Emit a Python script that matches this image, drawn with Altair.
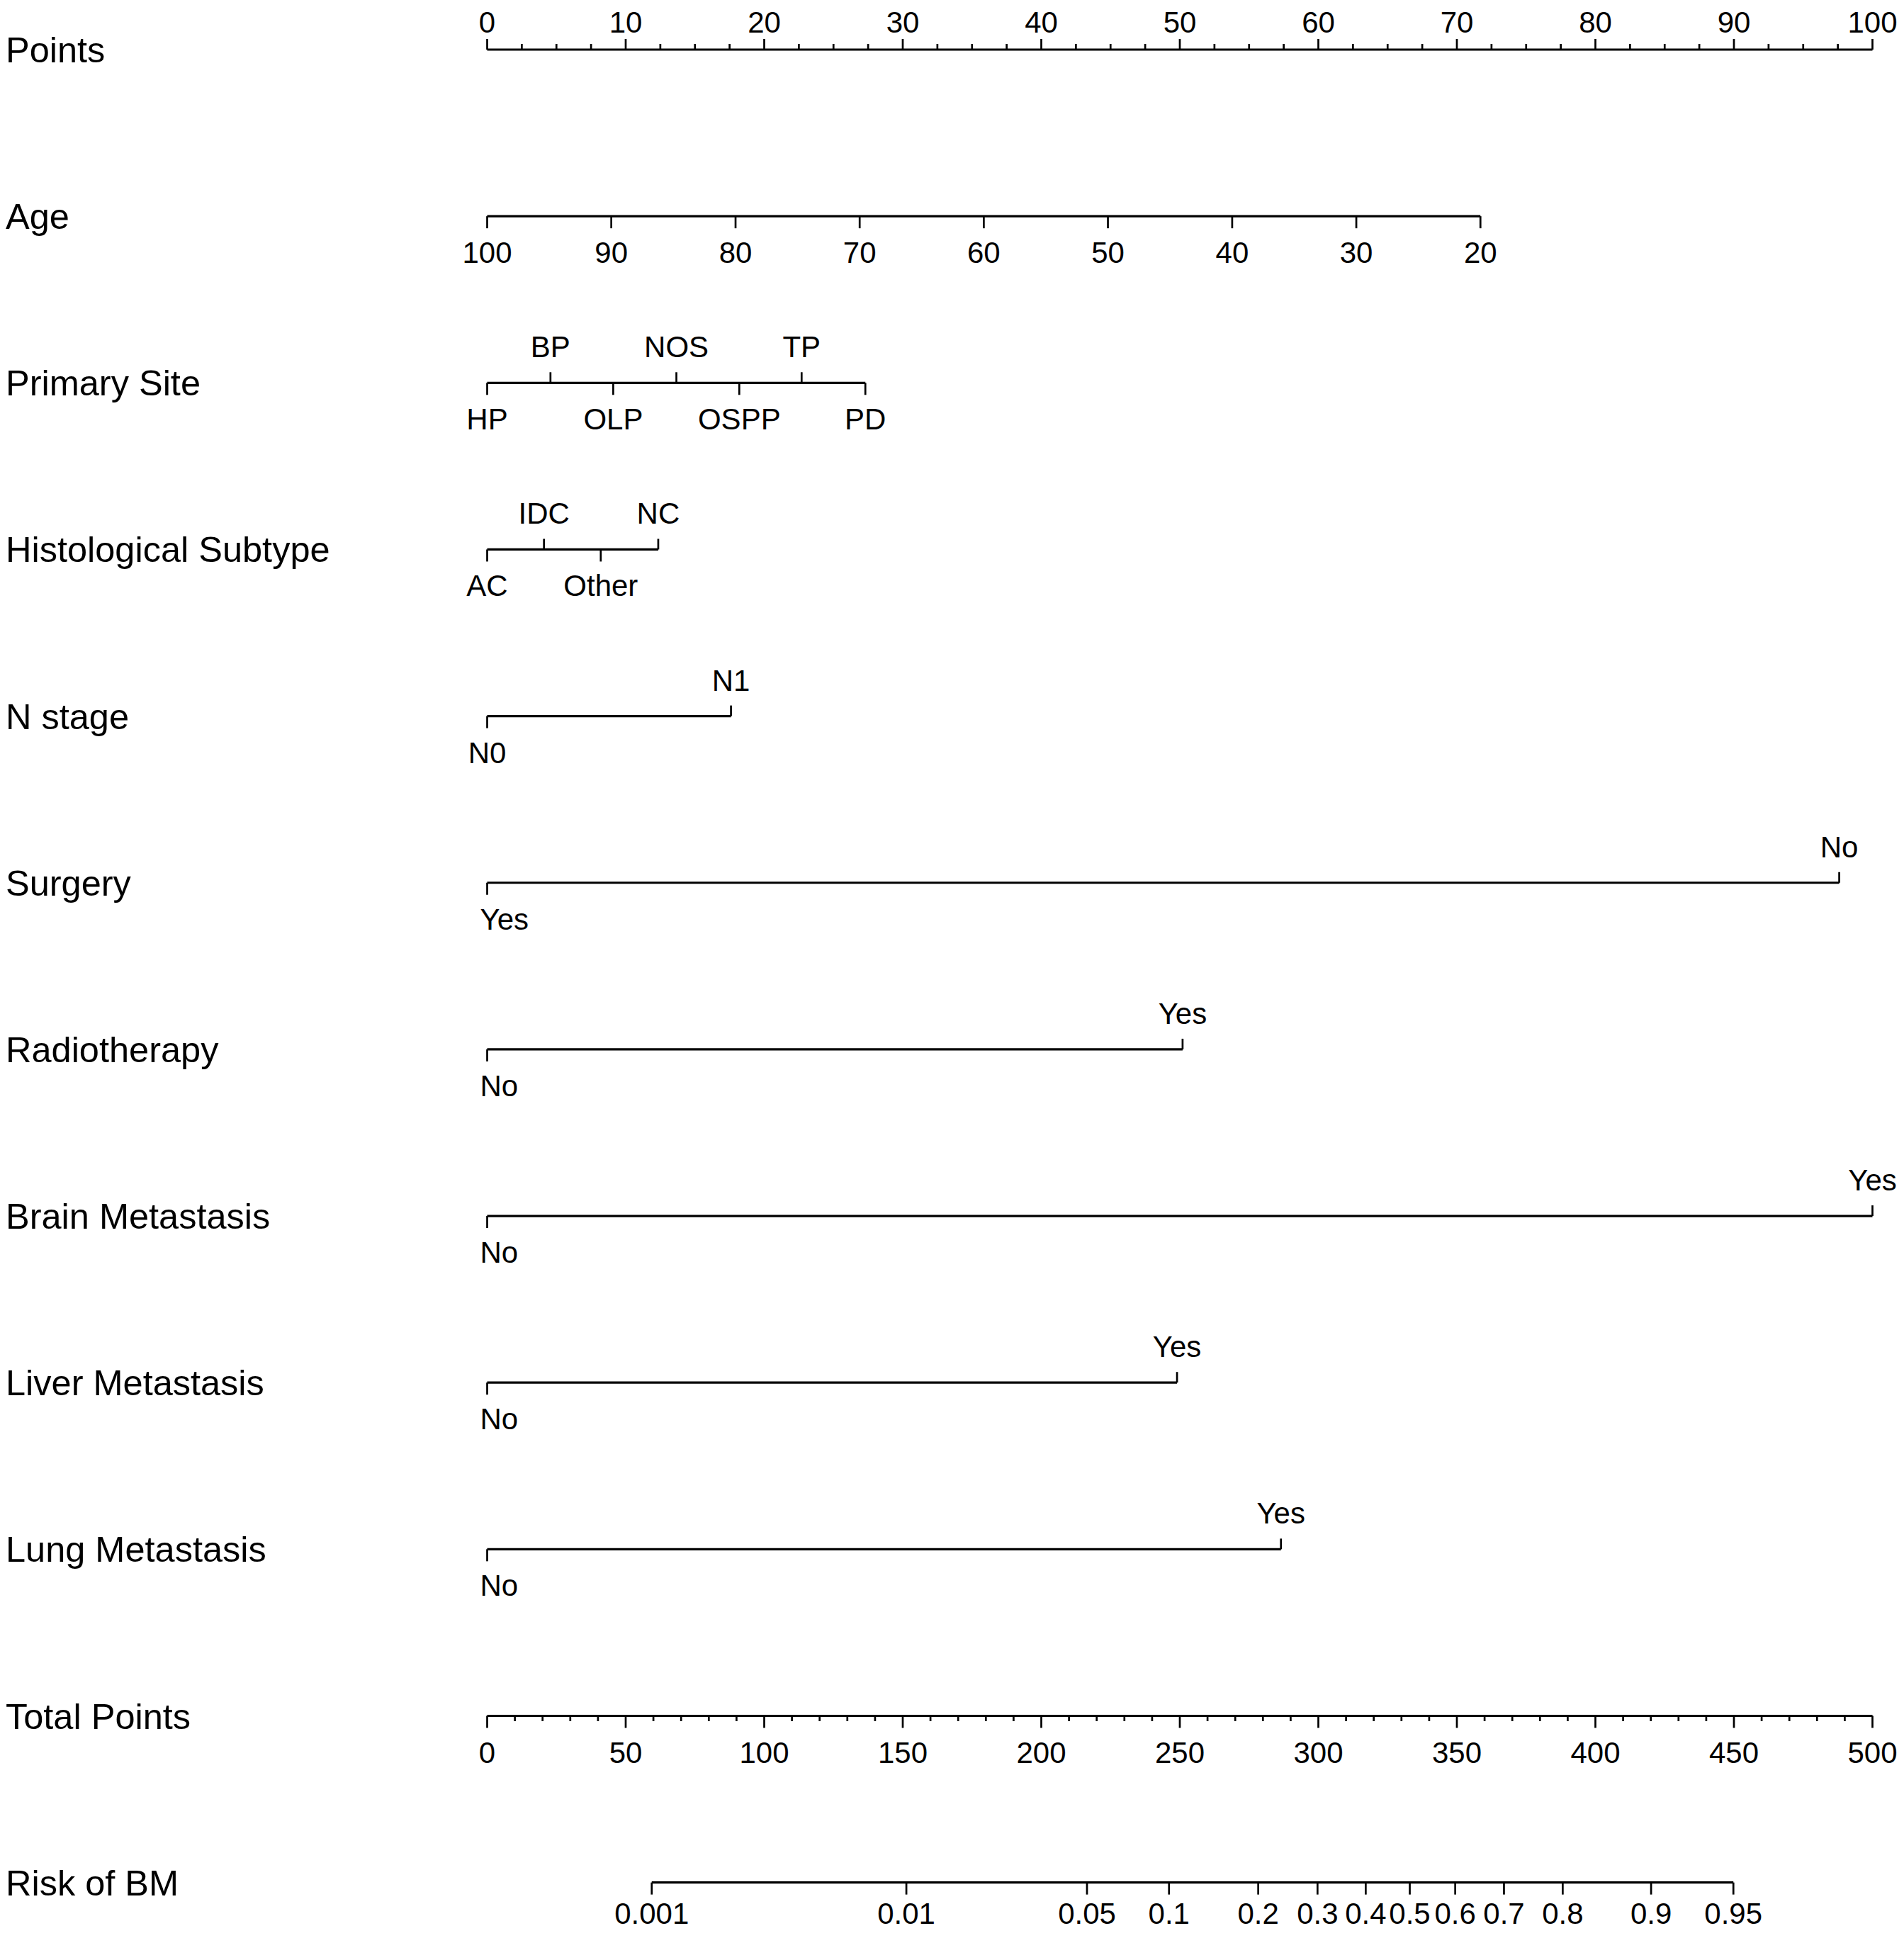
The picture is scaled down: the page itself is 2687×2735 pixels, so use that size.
import altair as alt
import pandas as pd

# ---------------- data ----------------
ROW_NAMES = ["Points", "Age", "Primary Site", "Histological Subtype", "N stage",
             "Surgery", "Radiotherapy", "Brain Metastasis", "Liver Metastasis",
             "Lung Metastasis", "Total Points", "Risk of BM"]

POINTS_MAJOR = [0, 10, 20, 30, 40, 50, 60, 70, 80, 90, 100]
POINTS_MINOR_STEP = 2.5

AGE_LABELS = [100, 90, 80, 70, 60, 50, 40, 30, 20]
AGE_POINTS = [0, 8.96, 17.93, 26.89, 35.85, 44.81, 53.78, 62.74, 71.7]

PRIMARY_LEVELS = ["HP", "BP", "OLP", "NOS", "OSPP", "TP", "PD"]
PRIMARY_POINTS = [0, 4.57, 9.1, 13.66, 18.2, 22.7, 27.3]

HIST_LEVELS = ["AC", "IDC", "Other", "NC"]
HIST_POINTS = [0, 4.1, 8.2, 12.35]

NSTAGE_LEVELS = ["N0", "N1"]
NSTAGE_POINTS = [0, 17.6]

SURGERY_LEVELS = ["Yes", "No"]
SURGERY_POINTS = [0, 97.6]

RADIO_LEVELS = ["No", "Yes"]
RADIO_POINTS = [0, 50.2]

BRAIN_LEVELS = ["No", "Yes"]
BRAIN_POINTS = [0, 100]

LIVER_LEVELS = ["No", "Yes"]
LIVER_POINTS = [0, 49.8]

LUNG_LEVELS = ["No", "Yes"]
LUNG_POINTS = [0, 57.3]

TOTAL_MAJOR = [0, 50, 100, 150, 200, 250, 300, 350, 400, 450, 500]
TOTAL_MINOR_STEP = 10
TOTAL_MAX = 500  # total points that line up with 100 points

RISK_LABELS = ["0.001", "0.01", "0.05", "0.1", "0.2", "0.3", "0.4", "0.5",
               "0.6", "0.7", "0.8", "0.9", "0.95"]
RISK_TOTAL = [59.4, 151.3, 216.5, 246.1, 278.3, 299.7, 317.1, 333.0,
              349.4, 367.0, 388.2, 420.1, 449.8]

# ---------------- build tables ----------------
lines, ticks, texts = [], [], []

# Points row (0): ticks up, labels above
lines.append(dict(row=0, x0=0, x1=100))
for v in POINTS_MAJOR:
    ticks.append(dict(row=0, x=v, dir="up", major=True))
    texts.append(dict(row=0, x=v, label=str(v), side="top", shift=False))
n_minor = int(100 / POINTS_MINOR_STEP)
for i in range(n_minor + 1):
    v = i * POINTS_MINOR_STEP
    if v not in POINTS_MAJOR:
        ticks.append(dict(row=0, x=v, dir="up", major=False))

# Age row (1): ticks down, labels below
lines.append(dict(row=1, x0=min(AGE_POINTS), x1=max(AGE_POINTS)))
for lab, p in zip(AGE_LABELS, AGE_POINTS):
    ticks.append(dict(row=1, x=p, dir="down", major=True))
    texts.append(dict(row=1, x=p, label=str(lab), side="below", shift=False))

# categorical rows: alternate below / above
cat_rows = [
    (2, PRIMARY_LEVELS, PRIMARY_POINTS, False),
    (3, HIST_LEVELS, HIST_POINTS, False),
    (4, NSTAGE_LEVELS, NSTAGE_POINTS, False),
    (5, SURGERY_LEVELS, SURGERY_POINTS, True),
    (6, RADIO_LEVELS, RADIO_POINTS, True),
    (7, BRAIN_LEVELS, BRAIN_POINTS, True),
    (8, LIVER_LEVELS, LIVER_POINTS, True),
    (9, LUNG_LEVELS, LUNG_POINTS, True),
]
for row, levels, pts, binary in cat_rows:
    lines.append(dict(row=row, x0=min(pts), x1=max(pts)))
    for i, (lab, p) in enumerate(zip(levels, pts)):
        side = "below" if i % 2 == 0 else "above"
        ticks.append(dict(row=row, x=p, dir="down" if side == "below" else "up", major=True))
        texts.append(dict(row=row, x=p, label=lab, side=side,
                          shift=bool(binary and i == 0)))

# Total points row (10)
scale_tp = 100 / TOTAL_MAX
lines.append(dict(row=10, x0=0, x1=100))
for v in TOTAL_MAJOR:
    ticks.append(dict(row=10, x=v * scale_tp, dir="down", major=True))
    texts.append(dict(row=10, x=v * scale_tp, label=str(v), side="below", shift=False))
for i in range(int(TOTAL_MAX / TOTAL_MINOR_STEP) + 1):
    v = i * TOTAL_MINOR_STEP
    if v not in TOTAL_MAJOR:
        ticks.append(dict(row=10, x=v * scale_tp, dir="down", major=False))

# Risk row (11)
lines.append(dict(row=11, x0=min(RISK_TOTAL) * scale_tp, x1=max(RISK_TOTAL) * scale_tp))
for lab, t in zip(RISK_LABELS, RISK_TOTAL):
    ticks.append(dict(row=11, x=t * scale_tp, dir="down", major=True))
    texts.append(dict(row=11, x=t * scale_tp, label=lab, side="bottom", shift=False))

lines_df = pd.DataFrame(lines)
ticks_df = pd.DataFrame(ticks)
texts_df = pd.DataFrame(texts)
rows_df = pd.DataFrame(dict(row=list(range(len(ROW_NAMES))), name=ROW_NAMES))

# ---------------- layout ----------------
W, H = 2671, 2716
PX_PER_POINT = 19.55
X0_PX = 679.5          # plot-x of 0 points
ROW_PX = 235.15        # spacing between rows
ROW0_PX = 62.0         # plot-y of first row

xmin = -X0_PX / PX_PER_POINT
xmax = xmin + W / PX_PER_POINT
ymin = -ROW0_PX / ROW_PX
ymax = ymin + H / ROW_PX

xscale = alt.Scale(domain=[xmin, xmax], nice=False, zero=False)
yscale = alt.Scale(domain=[ymin, ymax], nice=False, zero=False, reverse=True)

FONT = "Liberation Sans"
LW = 3.2
TW = 2.7
TICK_FS = 42
ROW_FS = 50.5

def X(f):
    return alt.X(f, type="quantitative", scale=xscale, axis=None)

def Y(f):
    return alt.Y(f, type="quantitative", scale=yscale, axis=None)

line_layer = alt.Chart(lines_df).mark_rule(color="black", strokeWidth=LW).encode(
    x=X("x0"), x2="x1", y=Y("row"))

def tick_layer(direction, major, length):
    return (alt.Chart(ticks_df)
            .transform_filter(f"datum.dir == '{direction}' && datum.major == {str(major).lower()}")
            .mark_rule(color="black", strokeWidth=TW,
                       y2Offset=(-length if direction == "up" else length))
            .encode(x=X("x"), y=Y("row"), y2="row"))

tick_layers = [
    tick_layer("up", True, 15),
    tick_layer("up", False, 8),
    tick_layer("down", True, 17),
    tick_layer("down", False, 7.5),
]

def text_layer(flt, dy, align="center", dx=0):
    return (alt.Chart(texts_df)
            .transform_filter(flt)
            .mark_text(font=FONT, fontSize=TICK_FS, color="black", align=align,
                       baseline="alphabetic", dy=dy, dx=dx)
            .encode(x=X("x"), y=Y("row"), text="label:N"))

top_text = text_layer("datum.side == 'top'", -24)
above_text = text_layer("datum.side == 'above'", -36)
below_text = text_layer("datum.side == 'below' && !datum.shift", 66)
bottom_text = text_layer("datum.side == 'bottom'", 58)
below_shift_text = text_layer("datum.side == 'below' && datum.shift", 66, align="left", dx=-10)

row_text = (alt.Chart(rows_df)
            .mark_text(font=FONT, fontSize=ROW_FS, color="black", align="left",
                       baseline="alphabetic", dy=18)
            .encode(x=alt.value(0), y=Y("row"), text="name:N"))

chart = alt.layer(line_layer, *tick_layers, top_text, above_text, below_text,
                  bottom_text, below_shift_text, row_text).properties(
    width=W, height=H, padding=0, autosize=alt.AutoSizeParams(type="none"),
    background="white",
).configure_view(stroke=None)

chart.save("out.html", embed_options={"renderer": "svg", "actions": False})
